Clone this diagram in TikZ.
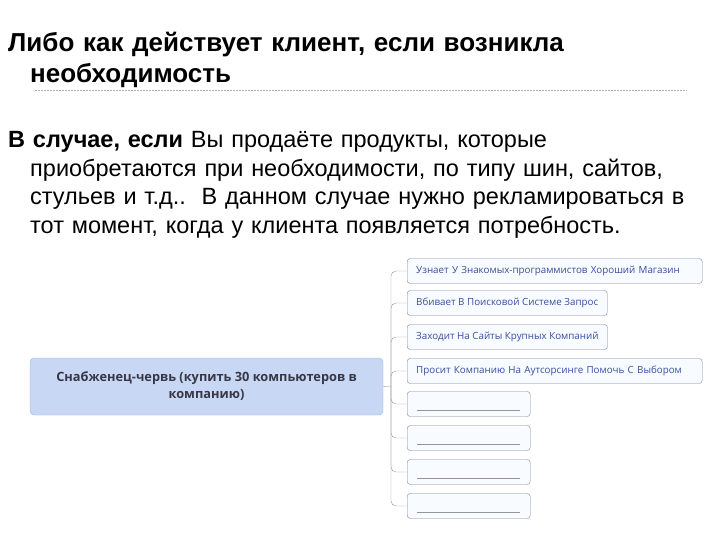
\documentclass[tikz,border=0pt]{standalone}
\usepackage{fontspec}
\setmainfont{Liberation Sans}
\newfontfamily\mapfont{Open Sans}
\definecolor{mainfill}{RGB}{200,216,244}
\definecolor{mainline}{RGB}{150,175,222}
\definecolor{maintext}{RGB}{55,55,70}
\definecolor{leafline}{RGB}{125,130,158}
\definecolor{leaffill}{RGB}{248,251,255}
\definecolor{leaftext}{RGB}{55,78,160}
\definecolor{branchgray}{RGB}{150,150,150}
\definecolor{rulegray}{RGB}{175,175,175}
\begin{document}
\begin{tikzpicture}[x=1pt,y=-1pt,
	mainbox/.style={draw=mainline, fill=mainfill, rounded corners=4pt, minimum width=353pt, minimum height=57pt, align=center, text=maintext, font=\mapfont\bfseries\fontsize{12.8}{17}\selectfont},
	leaf/.style={draw=leafline, fill=leaffill, rounded corners=3pt, anchor=west, minimum height=25pt, inner xsep=9pt, inner ysep=0pt, align=left, text=leaftext, font=\mapfont\fontsize{9.8}{11}\selectfont},
	blank/.style={leaf, text width=105pt},
	branch/.style={draw=branchgray, rounded corners=5pt}]
	\useasboundingbox (0,0) rectangle (720,540);
	\node[anchor=base west, text width=690pt, align=left, inner sep=0pt, font=\bfseries\fontsize{26}{31}\selectfont] (title) at (30,52)
		{\hspace*{-22pt}Либо как действует клиент, если возникла\newline необходимость};
	\draw[rulegray, dash pattern=on 2pt off 1pt] (35,90) -- (687,90);
	\node[anchor=base west, text width=690pt, align=left, inner sep=0pt, font=\fontsize{23.5}{28.5}\selectfont] (text) at (30,148)
		{\hspace*{-22pt}\textbf{В случае, если} Вы продаёте продукты, которые\newline приобретаются при необходимости, по типу шин, сайтов,\newline стульев и т.д..\ \ В данном случае нужно рекламироваться в\newline тот момент, когда у клиента появляется потребность.};
	\node[mainbox] (main) at (206.5,386.5) {Снабженец-червь (купить 30 компьютеров в\\ компанию)};
	\coordinate (hub) at (391,386);
	\node[leaf, text width=277pt] (c1) at (407,271) {Узнает У Знакомых-программистов Хороший Магазин};
	\node[leaf] (c2) at (407,303) {Вбивает В Поисковой Системе Запрос};
	\node[leaf] (c3) at (407,337) {Заходит На Сайты Крупных Компаний};
	\node[leaf, text width=277pt] (c4) at (407,371) {Просит Компанию На Аутсорсинге Помочь С Выбором};
	\node[blank] (c5) at (407,404) {};
	\node[blank] (c6) at (407,438) {};
	\node[blank] (c7) at (407,472) {};
	\node[blank] (c8) at (407,506) {};
	\draw[branchgray] (main.east) -- (hub);
	\draw[branch] (hub) |- (c1.west);
	\draw[branch] (hub) |- (c2.west);
	\draw[branch] (hub) |- (c3.west);
	\draw[branch] (hub) |- (c4.west);
	\draw[branch] (hub) |- (c5.west);
	\draw[branch] (hub) |- (c6.west);
	\draw[branch] (hub) |- (c7.west);
	\draw[branch] (hub) |- (c8.west);
	\draw[branchgray] ([xshift=10pt,yshift=7pt]c5.south west) -- ([xshift=-10pt,yshift=7pt]c5.south east);
	\draw[branchgray] ([xshift=10pt,yshift=7pt]c6.south west) -- ([xshift=-10pt,yshift=7pt]c6.south east);
	\draw[branchgray] ([xshift=10pt,yshift=7pt]c7.south west) -- ([xshift=-10pt,yshift=7pt]c7.south east);
	\draw[branchgray] ([xshift=10pt,yshift=7pt]c8.south west) -- ([xshift=-10pt,yshift=7pt]c8.south east);
\end{tikzpicture}
\end{document}
